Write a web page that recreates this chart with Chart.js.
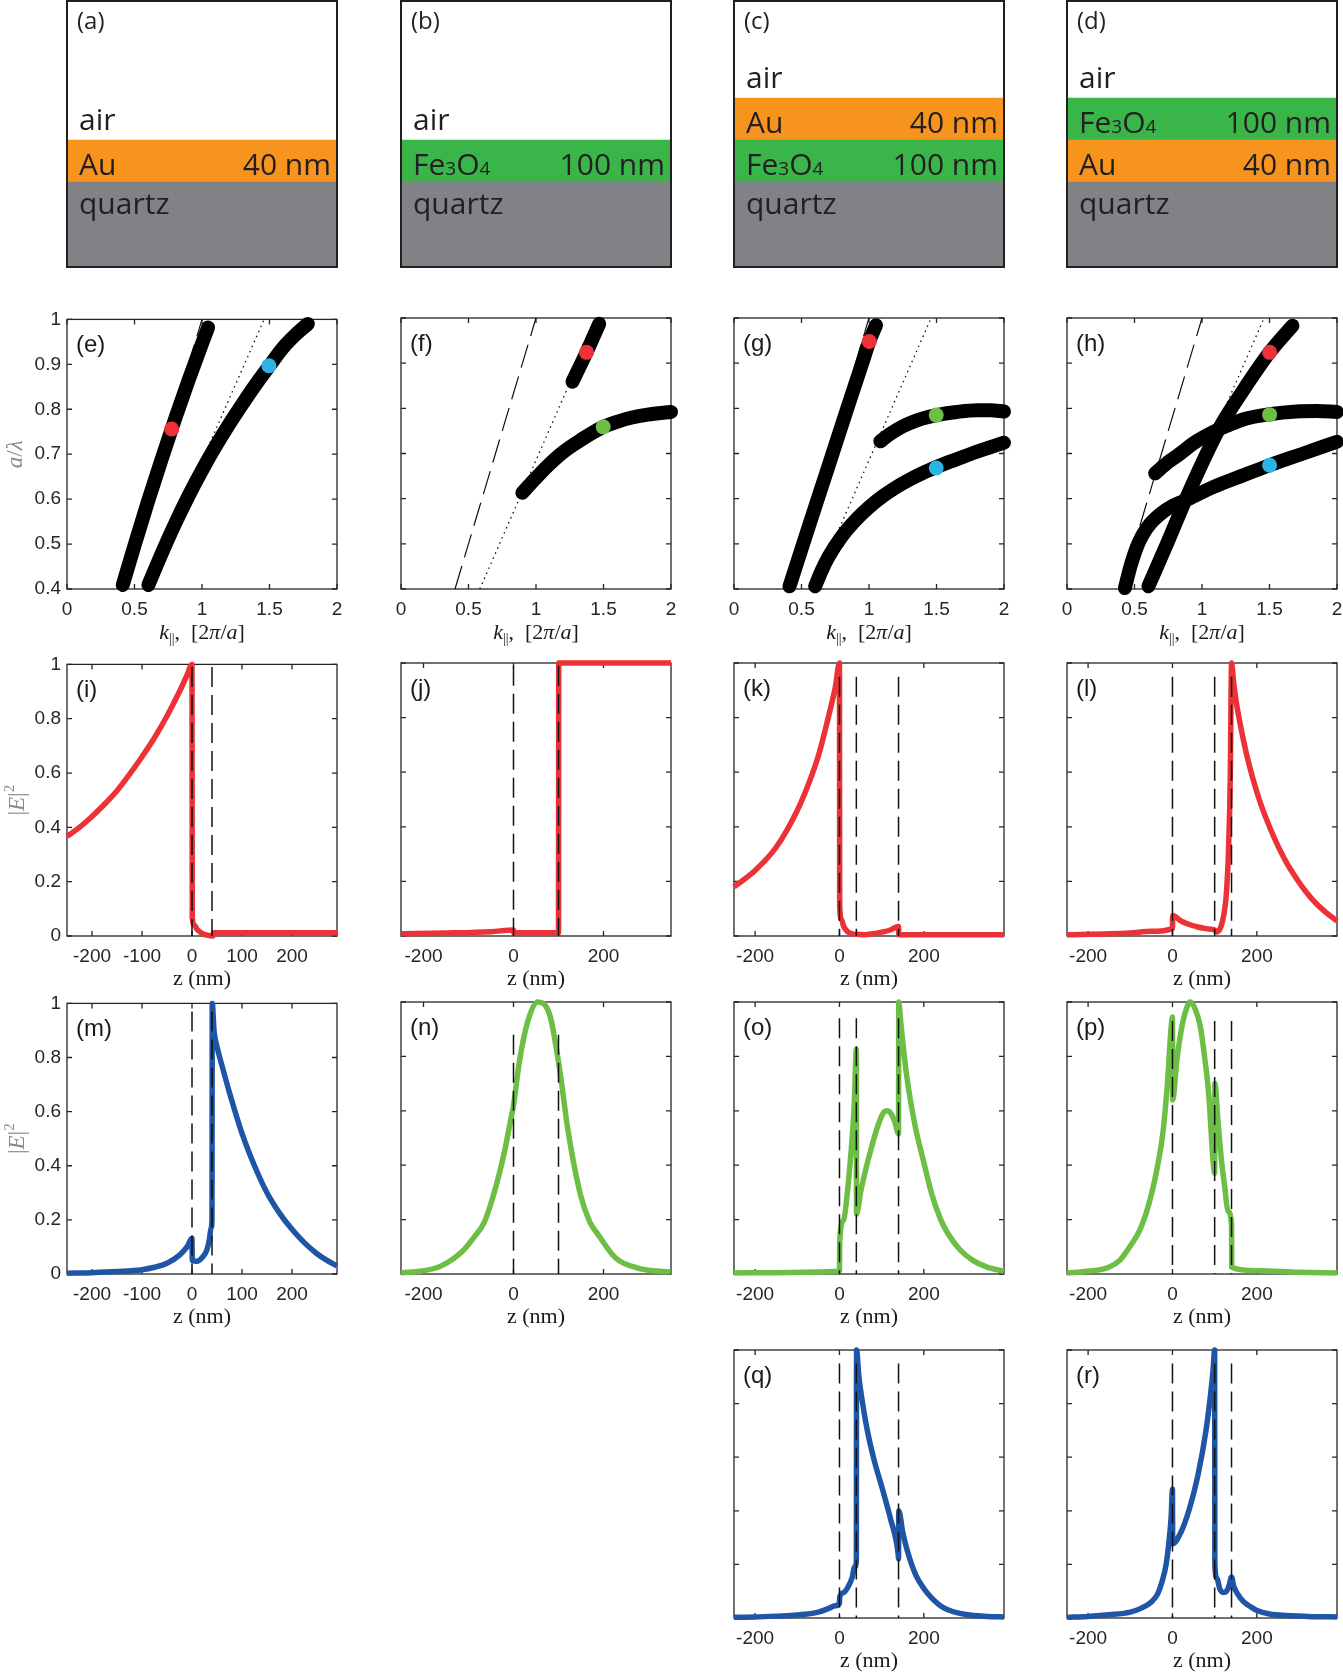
<!DOCTYPE html>
<html>
<head>
<meta charset="utf-8">
<script src="https://cdn.jsdelivr.net/npm/chart.js@4.4.1/dist/chart.umd.min.js"></script>
<style>
  html, body { margin: 0; padding: 0; background: #fff; }
  #fig { position: relative; width: 1343px; height: 1677px; overflow: hidden; background: #fff; }
  canvas { position: absolute; }
</style>
</head>
<body>
<div id="fig"></div>
<script>
// ---------- layer stacks (films listed top to bottom) ----------
const filmsA = ['Au'];          const thickA = ['40 nm'];
const filmsB = ['Fe3O4'];       const thickB = ['100 nm'];
const filmsC = ['Au', 'Fe3O4']; const thickC = ['40 nm', '100 nm'];
const filmsD = ['Fe3O4', 'Au']; const thickD = ['100 nm', '40 nm'];

// ---------- band diagrams: k|| [2pi/a] vs a/lambda ----------
const bandXTicks = [0, 0.5, 1, 1.5, 2];
const bandYTicks = [0.4, 0.5, 0.6, 0.7, 0.8, 0.9, 1];
const airK = [0.4, 1.0];      const airW = [0.4, 1.0];
const quartzK = [0.584, 1.46]; const quartzW = [0.4, 1.0];

const kE1 = [0.413, 0.5, 0.6, 0.7, 0.8, 0.9, 1.0, 1.045];
const wE1 = [0.409, 0.497, 0.595, 0.688, 0.778, 0.864, 0.946, 0.982];
const kE2 = [0.603, 0.7, 0.8, 0.9, 1.0, 1.1, 1.2, 1.3, 1.4, 1.5, 1.6, 1.7, 1.784];
const wE2 = [0.409, 0.478, 0.545, 0.607, 0.664, 0.717, 0.766, 0.812, 0.856, 0.897, 0.937, 0.968, 0.99];
const dotKE = [0.775, 1.496]; const dotWE = [0.756, 0.897]; const dotCE = ['r', 'c'];

const kF1 = [1.27, 1.374, 1.468];
const wF1 = [0.859, 0.924, 0.987];
const kF2 = [0.899, 0.96, 1.084, 1.2, 1.332, 1.498, 1.6, 1.703, 1.827, 2.0];
const wF2 = [0.613, 0.633, 0.672, 0.703, 0.730, 0.759, 0.770, 0.779, 0.786, 0.792];
const dotKF = [1.374, 1.498]; const dotWF = [0.924, 0.759]; const dotCF = ['r', 'g'];

const kG1 = [0.411, 0.55, 0.7, 0.85, 0.95, 1.002, 1.052];
const wG1 = [0.406, 0.535, 0.672, 0.81, 0.90, 0.948, 0.984];
const kG2 = [0.601, 0.65, 0.7, 0.8, 0.9, 1.0, 1.1, 1.2, 1.3, 1.4, 1.5, 1.6, 1.7, 1.8, 1.9, 2.0];
const wG2 = [0.406, 0.441, 0.471, 0.517, 0.552, 0.581, 0.605, 0.625, 0.642, 0.657, 0.670, 0.682, 0.693, 0.704, 0.714, 0.724];
const kG3 = [1.084, 1.15, 1.25, 1.35, 1.5, 1.65, 1.8, 1.9, 2.0];
const wG3 = [0.727, 0.742, 0.760, 0.773, 0.785, 0.792, 0.796, 0.796, 0.793];
const dotKG = [1.002, 1.498, 1.498]; const dotWG = [0.948, 0.785, 0.668]; const dotCG = ['r', 'g', 'c'];

const kH1 = [0.603, 0.739, 0.876, 1.0, 1.136, 1.31, 1.501, 1.67];
const wH1 = [0.406, 0.499, 0.596, 0.678, 0.760, 0.842, 0.924, 0.983];
const kH2 = [0.429, 0.47, 0.516, 0.56, 0.615, 0.7, 0.764, 0.876, 1.087, 1.3, 1.501, 1.75, 2.0];
const wH2 = [0.402, 0.45, 0.492, 0.52, 0.544, 0.568, 0.581, 0.596, 0.626, 0.651, 0.674, 0.700, 0.726];
const kH3 = [0.653, 0.75, 0.839, 0.95, 1.087, 1.2, 1.31, 1.5, 1.7, 1.85, 2.0];
const wH3 = [0.656, 0.681, 0.700, 0.725, 0.748, 0.763, 0.776, 0.787, 0.793, 0.794, 0.792];
const dotKH = [1.501, 1.501, 1.501]; const dotWH = [0.924, 0.786, 0.674]; const dotCH = ['r', 'g', 'c'];

// ---------- field profiles |E|^2 vs z (nm) ----------
const eTicks = [0, 0.2, 0.4, 0.6, 0.8, 1];
const zRangeA = [-250, 290]; const zRangeB = [-250, 350]; const zRangeC = [-250, 390];
const zTicksFine = [-200, -100, 0, 100, 200];
const zTicksCoarse = [-200, 0, 200];

const ifaceI = [0, 40];       const dashTopI = 0.99;
const zI = [-250, -225, -200, -175, -150, -125, -100, -75, -50, -25, -10, 0, 0.5, 5, 10, 20, 30, 42, 42.5, 290];
const eI = [0.367, 0.40, 0.44, 0.485, 0.535, 0.595, 0.66, 0.73, 0.81, 0.9, 0.96, 1.0, 0.067, 0.04, 0.025, 0.01, 0.003, 0, 0.012, 0.012];

const ifaceJ = [0, 100];      const dashTopJ = 0.99;
const zJ = [-250, -150, -50, 0, 0.5, 100, 100.5, 350];
const eJ = [0.008, 0.011, 0.016, 0.022, 0.012, 0.012, 1.0, 1.0];

const ifaceK = [0, 40, 140];  const dashTopK = 0.95;
const zK = [-250, -200, -150, -100, -75, -50, -25, -10, 0, 0.5, 5, 10, 20, 30, 40, 60, 80, 100, 120, 140, 140.5, 390];
const eK = [0.18, 0.24, 0.325, 0.46, 0.55, 0.66, 0.81, 0.91, 1.0, 0.11, 0.06, 0.035, 0.015, 0.008, 0.006, 0.005, 0.008, 0.014, 0.022, 0.035, 0.005, 0.005];

const ifaceL = [0, 100, 140]; const dashTopL = 0.95;
const zL = [-250, -150, -100, -50, 0, 0.5, 20, 40, 60, 80, 100, 105, 115, 122, 128, 133, 137, 140, 145, 150, 160, 175, 190, 210, 230, 250, 270, 290, 315, 340, 365, 390];
const eL = [0.005, 0.008, 0.011, 0.017, 0.027, 0.075, 0.055, 0.042, 0.033, 0.027, 0.022, 0.015, 0.035, 0.08, 0.16, 0.32, 0.58, 1.0, 0.93, 0.87, 0.78, 0.67, 0.58, 0.48, 0.40, 0.33, 0.27, 0.22, 0.165, 0.12, 0.085, 0.055];

const ifaceM = [0, 40];       const dashTopM = 0.97;
const zM = [-250, -200, -150, -100, -75, -50, -25, -10, 0, 0.5, 10, 20, 30, 35, 38, 40, 40.5, 44, 50, 60, 75, 100, 125, 150, 175, 200, 225, 250, 270, 290];
const eM = [0.003, 0.005, 0.009, 0.016, 0.025, 0.04, 0.07, 0.1, 0.132, 0.05, 0.047, 0.06, 0.09, 0.13, 0.17, 0.2, 1.0, 0.9, 0.84, 0.77, 0.67, 0.52, 0.4, 0.3, 0.225, 0.165, 0.115, 0.075, 0.05, 0.03];

const ifaceN = [0, 100];      const dashTopN = 0.88;
const zN = [-250, -200, -163, -114, -90, -65, -50, -36, -20, -7, 0, 13, 32, 54, 81, 100, 107, 120, 149, 170, 188, 227, 276, 349];
const eN = [0.004, 0.012, 0.028, 0.083, 0.13, 0.19, 0.26, 0.34, 0.45, 0.56, 0.62, 0.78, 0.93, 1.0, 0.95, 0.78, 0.7, 0.54, 0.29, 0.19, 0.145, 0.059, 0.022, 0.007];

const ifaceO = [0, 40, 140];  const dashTopO = 0.94;
const zO = [-250, -150, -50, -10, 0, 0.5, 10, 20, 30, 35, 40, 40.5, 50, 60, 75, 90, 105, 112, 122, 132, 140, 140.5, 145, 159, 179, 200, 218, 240, 257, 285, 316, 350, 390];
const eO = [0.004, 0.005, 0.007, 0.009, 0.012, 0.12, 0.2, 0.32, 0.5, 0.62, 0.826, 0.22, 0.3, 0.37, 0.46, 0.54, 0.595, 0.6, 0.59, 0.555, 0.515, 1.0, 0.93, 0.733, 0.547, 0.41, 0.298, 0.2, 0.149, 0.09, 0.05, 0.025, 0.01];

const ifaceP = [0, 100, 140]; const dashTopP = 0.93;
const zP = [-250, -200, -151, -125, -102, -75, -52, -35, -23, -12, -3, 0, 0.5, 10, 20, 30, 42, 55, 66, 76, 86, 96, 100, 100.5, 108, 116, 124, 131, 140, 140.5, 200, 300, 390];
const eP = [0.004, 0.01, 0.025, 0.05, 0.098, 0.17, 0.28, 0.4, 0.515, 0.7, 0.91, 0.945, 0.64, 0.78, 0.89, 0.96, 1.0, 0.97, 0.91, 0.8, 0.66, 0.42, 0.37, 0.7, 0.56, 0.42, 0.32, 0.233, 0.18, 0.025, 0.012, 0.006, 0.004];

const ifaceQ = [0, 40, 140];  const dashTopQ = 0.95;
const zQ = [-250, -200, -150, -100, -50, -25, -10, 0, 0.5, 10, 20, 30, 36, 40, 40.5, 46, 55, 66, 82, 102, 121, 139, 140, 140.5, 150, 161, 181, 200, 220, 240, 260, 300, 350, 390];
const eQ = [0.003, 0.004, 0.007, 0.011, 0.022, 0.036, 0.046, 0.055, 0.078, 0.095, 0.115, 0.15, 0.19, 0.21, 1.0, 0.9, 0.8, 0.7, 0.59, 0.48, 0.37, 0.24, 0.22, 0.4, 0.32, 0.25, 0.16, 0.11, 0.072, 0.045, 0.029, 0.013, 0.006, 0.004];

const ifaceR = [0, 100, 140]; const dashTopR = 0.95;
const zR = [-250, -200, -150, -100, -75, -50, -35, -25, -15, -8, -3, 0, 0.5, 20, 40, 60, 80, 90, 96, 100, 100.5, 105, 112, 120, 128, 134, 140, 145, 155, 169, 185, 199, 230, 270, 330, 390];
const eR = [0.003, 0.006, 0.012, 0.022, 0.036, 0.06, 0.09, 0.134, 0.2, 0.29, 0.38, 0.48, 0.277, 0.32, 0.407, 0.53, 0.705, 0.83, 0.92, 1.0, 0.196, 0.15, 0.11, 0.095, 0.1, 0.12, 0.153, 0.12, 0.088, 0.06, 0.042, 0.029, 0.015, 0.009, 0.005, 0.004];

// ---------- styles / layout ----------
const MAT_COLOR = { air: '#ffffff', Au: '#F7941D', Fe3O4: '#39B54A', quartz: '#808285' };
const DOT = { r: '#EC3237', g: '#6CBE45', c: '#2BB3E6' };
const RED = '#EC3237', GREEN = '#6CBE45', BLUE = '#1F55A6';
const AXIS_COLOR = '#262626', TEXT_COLOR = '#1a1a1a', YLAB_COLOR = '#8a8a8a';
const TICK_FONT = { family: 'Liberation Sans', size: 19 };
const SERIF = '"Liberation Serif"';
const TICK_LEN = 5;
const SUB_H = 2.03, FILM_H = 1, STACK_TOP = 6.35;

const COL_X = [67, 401, 734, 1067];
const ROW_Y = [1, 318, 663, 1002, 1350];
const ROW_H = [266, 271, 273, 272, 268];
const PW = 270;
const PAD = { l: 67, r: 16, t: 16, b: 62 };

function pts(xs, ys) { return xs.map((x, i) => ({ x: x, y: ys[i] })); }

function makeCanvas(col, row) {
  const c = document.createElement('canvas');
  const w = PAD.l + PW + PAD.r, h = PAD.t + ROW_H[row] + PAD.b;
  c.width = w; c.height = h;
  c.style.left = (COL_X[col] - PAD.l) + 'px';
  c.style.top = (ROW_Y[row] - PAD.t) + 'px';
  c.style.width = w + 'px'; c.style.height = h + 'px';
  document.getElementById('fig').appendChild(c);
  return c;
}

function drawParts(ctx, parts, x, y, align) {
  let w = 0;
  parts.forEach(p => { ctx.font = p.f; p.w = ctx.measureText(p.t).width; w += p.w; });
  let px = align === 'center' ? x - w / 2 : x;
  parts.forEach(p => { ctx.font = p.f; ctx.fillText(p.t, px, y + (p.dy || 0)); px += p.w; });
}

const kParts = () => [
  { t: 'k', f: 'italic 22px ' + SERIF },
  { t: '||', f: '14px ' + SERIF, dy: 4 },
  { t: ',  [2', f: '22px ' + SERIF },
  { t: 'π', f: 'italic 22px ' + SERIF },
  { t: '/', f: '22px ' + SERIF },
  { t: 'a', f: 'italic 22px ' + SERIF },
  { t: ']', f: '22px ' + SERIF }
];
const zParts = () => [{ t: 'z (nm)', f: '22px ' + SERIF }];
const wParts = () => [
  { t: 'a', f: 'italic 23px ' + SERIF },
  { t: '/', f: '23px ' + SERIF },
  { t: 'λ', f: 'italic 23px ' + SERIF }
];
const eParts = () => [
  { t: '|', f: '23px ' + SERIF },
  { t: 'E', f: 'italic 23px ' + SERIF },
  { t: '|', f: '23px ' + SERIF },
  { t: '2', f: '15px ' + SERIF, dy: -10 }
];

// box with inward ticks on all four sides
const boxPlugin = {
  id: 'box',
  beforeDatasetsDraw(chart) {
    const { ctx, chartArea: a } = chart;
    const x = chart.scales.x, y = chart.scales.y;
    ctx.save();
    ctx.strokeStyle = AXIS_COLOR;
    ctx.lineWidth = 1.3;
    ctx.strokeRect(a.left, a.top, a.right - a.left, a.bottom - a.top);
    ctx.beginPath();
    x.ticks.forEach(t => {
      const p = x.getPixelForValue(t.value);
      ctx.moveTo(p, a.bottom); ctx.lineTo(p, a.bottom - TICK_LEN);
      ctx.moveTo(p, a.top); ctx.lineTo(p, a.top + TICK_LEN);
    });
    y.ticks.forEach(t => {
      const p = y.getPixelForValue(t.value);
      ctx.moveTo(a.left, p); ctx.lineTo(a.left + TICK_LEN, p);
      ctx.moveTo(a.right, p); ctx.lineTo(a.right - TICK_LEN, p);
    });
    ctx.stroke();
    ctx.restore();
  }
};

// panel tag and axis titles
const panelPlugin = {
  id: 'panel',
  afterDraw(chart, args, o) {
    const { ctx, chartArea: a } = chart;
    const cx = (a.left + a.right) / 2, cy = (a.top + a.bottom) / 2;
    ctx.save();
    ctx.fillStyle = TEXT_COLOR;
    ctx.textAlign = 'left';
    ctx.textBaseline = 'middle';
    ctx.font = '24px "Liberation Sans"';
    ctx.fillText(o.tag, a.left + 9, a.top + 26);
    ctx.textBaseline = 'alphabetic';
    if (o.xlab === 'k') drawParts(ctx, kParts(), cx, a.bottom + 50, 'center');
    if (o.xlab === 'z') drawParts(ctx, zParts(), cx, a.bottom + 49, 'center');
    if (o.ylab) {
      ctx.translate(a.left - 50, cy);
      ctx.rotate(-Math.PI / 2);
      ctx.fillStyle = YLAB_COLOR;
      if (o.ylab === 'w') drawParts(ctx, wParts(), 0, 5, 'center');
      else drawParts(ctx, eParts(), 0, 7, 'center');
    }
    ctx.restore();
  }
};

function axis(range, ticks, show, which) {
  return {
    type: 'linear', min: range[0], max: range[1],
    afterBuildTicks: s => { s.ticks = ticks.map(v => ({ value: v })); },
    afterFit: s => { if (which === 'x') s.height = PAD.b; else s.width = PAD.l; },
    grid: { display: false, drawTicks: false },
    border: { display: false },
    ticks: {
      display: show, font: TICK_FONT, color: AXIS_COLOR,
      padding: which === 'x' ? 9 : 6, maxRotation: 0, autoSkip: false,
      callback: v => String(v)
    }
  };
}

function linePanel(col, row, o) {
  const canvas = makeCanvas(col, row);
  return new Chart(canvas, {
    type: 'line',
    data: { datasets: o.datasets },
    options: {
      responsive: false, animation: false, events: [],
      layout: { padding: { left: 0, right: PAD.r, top: PAD.t, bottom: 0 } },
      plugins: {
        legend: { display: false }, tooltip: { enabled: false },
        panel: { tag: o.tag, xlab: o.xlab, ylab: o.ylab }
      },
      scales: {
        x: axis(o.xRange, o.xTicks, true, 'x'),
        y: axis(o.yRange, o.yTicks, o.showY, 'y')
      }
    },
    plugins: [boxPlugin, panelPlugin]
  });
}

function curveDs(xs, ys, color, width, cap, order) {
  return {
    data: pts(xs, ys), borderColor: color, borderWidth: width,
    borderCapStyle: cap, borderJoinStyle: 'round', cubicInterpolationMode: 'monotone',
    pointRadius: 0, fill: false, clip: false, order: order
  };
}
function guideDs(xs, ys, dash, width, order) {
  return {
    data: pts(xs, ys), borderColor: '#111', borderWidth: width, borderDash: dash,
    pointRadius: 0, tension: 0, fill: false, clip: false, order: order
  };
}

function bandPanel(col, tag, curves, dk, dw, dc) {
  const ds = [
    guideDs(airK, airW, [24, 9], 1.2, 2),
    guideDs(quartzK, quartzW, [1.5, 4], 1.3, 2)
  ];
  curves.forEach(c => ds.push(curveDs(c[0], c[1], '#000', 14, 'round', 1)));
  ds.push({
    data: pts(dk, dw), showLine: false, pointRadius: 7.5, pointHoverRadius: 7.5,
    pointBackgroundColor: dc.map(c => DOT[c]), pointBorderWidth: 0, clip: false, order: 0
  });
  linePanel(col, 1, {
    tag: tag, xlab: 'k', ylab: col === 0 ? 'w' : null, showY: col === 0,
    xRange: [0, 2], xTicks: bandXTicks, yRange: [0.4, 1], yTicks: bandYTicks, datasets: ds
  });
}

function fieldPanel(col, row, tag, zs, es, color, ifaces, dashTop, zRange, zTicks) {
  const ds = [curveDs(zs, es, color, 5.5, 'butt', 1)];
  ifaces.forEach(z => ds.push(guideDs([z, z], [dashTop, 0], [20, 8], 1.5, 0)));
  linePanel(col, row, {
    tag: tag, xlab: 'z', ylab: col === 0 ? 'E' : null, showY: col === 0,
    xRange: zRange, xTicks: zTicks, yRange: [0, 1], yTicks: eTicks, datasets: ds
  });
}

function layerPanel(col, tag, films, thick) {
  const canvas = makeCanvas(col, 0);
  const layers = [{ name: 'quartz', lo: 0, hi: SUB_H, thick: '' }];
  let lo = SUB_H;
  for (let i = films.length - 1; i >= 0; i--) {
    layers.push({ name: films[i], lo: lo, hi: lo + FILM_H, thick: thick[i] });
    lo += FILM_H;
  }
  layers.push({ name: 'air', lo: lo, hi: STACK_TOP, thick: '' });

  const textPlugin = {
    id: 'layerText',
    afterDatasetsDraw(chart) {
      const { ctx, chartArea: a } = chart;
      const y = chart.scales.y;
      ctx.save();
      ctx.fillStyle = '#231F20';
      ctx.textBaseline = 'alphabetic';
      layers.forEach(L => {
        let base;
        if (L.name === 'air') base = y.getPixelForValue(L.lo) - 10;
        else if (L.name === 'quartz') base = y.getPixelForValue(L.hi) + 32;
        else base = y.getPixelForValue(L.lo) - 7;
        const big = '30px "Open Sans"', small = '19px "Open Sans"';
        const parts = L.name === 'Fe3O4'
          ? [{ t: 'Fe', f: big }, { t: '3', f: small }, { t: 'O', f: big }, { t: '4', f: small }]
          : [{ t: L.name, f: big }];
        ctx.textAlign = 'left';
        drawParts(ctx, parts, a.left + 12, base, 'left');
        if (L.thick) {
          ctx.font = big;
          ctx.textAlign = 'right';
          ctx.fillText(L.thick, a.right - 6, base);
        }
      });
      ctx.textAlign = 'left';
      ctx.textBaseline = 'middle';
      ctx.font = '24px "Open Sans"';
      ctx.fillText(tag, a.left + 10, a.top + 21);
      ctx.strokeStyle = '#231F20';
      ctx.lineWidth = 2;
      ctx.strokeRect(a.left, a.top, a.right - a.left, a.bottom - a.top);
      ctx.restore();
    }
  };

  new Chart(canvas, {
    type: 'bar',
    data: {
      labels: [''],
      datasets: layers.map(L => ({
        data: [[L.lo, L.hi]], backgroundColor: MAT_COLOR[L.name], borderWidth: 0,
        barPercentage: 1, categoryPercentage: 1, grouped: false
      }))
    },
    options: {
      responsive: false, animation: false, events: [],
      layout: { padding: { left: PAD.l, right: PAD.r, top: PAD.t, bottom: PAD.b } },
      plugins: { legend: { display: false }, tooltip: { enabled: false } },
      scales: {
        x: { display: false },
        y: { display: false, min: 0, max: STACK_TOP }
      }
    },
    plugins: [textPlugin]
  });
}

// ---------- build figure ----------
layerPanel(0, '(a)', filmsA, thickA);
layerPanel(1, '(b)', filmsB, thickB);
layerPanel(2, '(c)', filmsC, thickC);
layerPanel(3, '(d)', filmsD, thickD);

bandPanel(0, '(e)', [[kE1, wE1], [kE2, wE2]], dotKE, dotWE, dotCE);
bandPanel(1, '(f)', [[kF1, wF1], [kF2, wF2]], dotKF, dotWF, dotCF);
bandPanel(2, '(g)', [[kG1, wG1], [kG2, wG2], [kG3, wG3]], dotKG, dotWG, dotCG);
bandPanel(3, '(h)', [[kH1, wH1], [kH2, wH2], [kH3, wH3]], dotKH, dotWH, dotCH);

fieldPanel(0, 2, '(i)', zI, eI, RED, ifaceI, dashTopI, zRangeA, zTicksFine);
fieldPanel(1, 2, '(j)', zJ, eJ, RED, ifaceJ, dashTopJ, zRangeB, zTicksCoarse);
fieldPanel(2, 2, '(k)', zK, eK, RED, ifaceK, dashTopK, zRangeC, zTicksCoarse);
fieldPanel(3, 2, '(l)', zL, eL, RED, ifaceL, dashTopL, zRangeC, zTicksCoarse);

fieldPanel(0, 3, '(m)', zM, eM, BLUE, ifaceM, dashTopM, zRangeA, zTicksFine);
fieldPanel(1, 3, '(n)', zN, eN, GREEN, ifaceN, dashTopN, zRangeB, zTicksCoarse);
fieldPanel(2, 3, '(o)', zO, eO, GREEN, ifaceO, dashTopO, zRangeC, zTicksCoarse);
fieldPanel(3, 3, '(p)', zP, eP, GREEN, ifaceP, dashTopP, zRangeC, zTicksCoarse);

fieldPanel(2, 4, '(q)', zQ, eQ, BLUE, ifaceQ, dashTopQ, zRangeC, zTicksCoarse);
fieldPanel(3, 4, '(r)', zR, eR, BLUE, ifaceR, dashTopR, zRangeC, zTicksCoarse);
</script>
</body>
</html>
